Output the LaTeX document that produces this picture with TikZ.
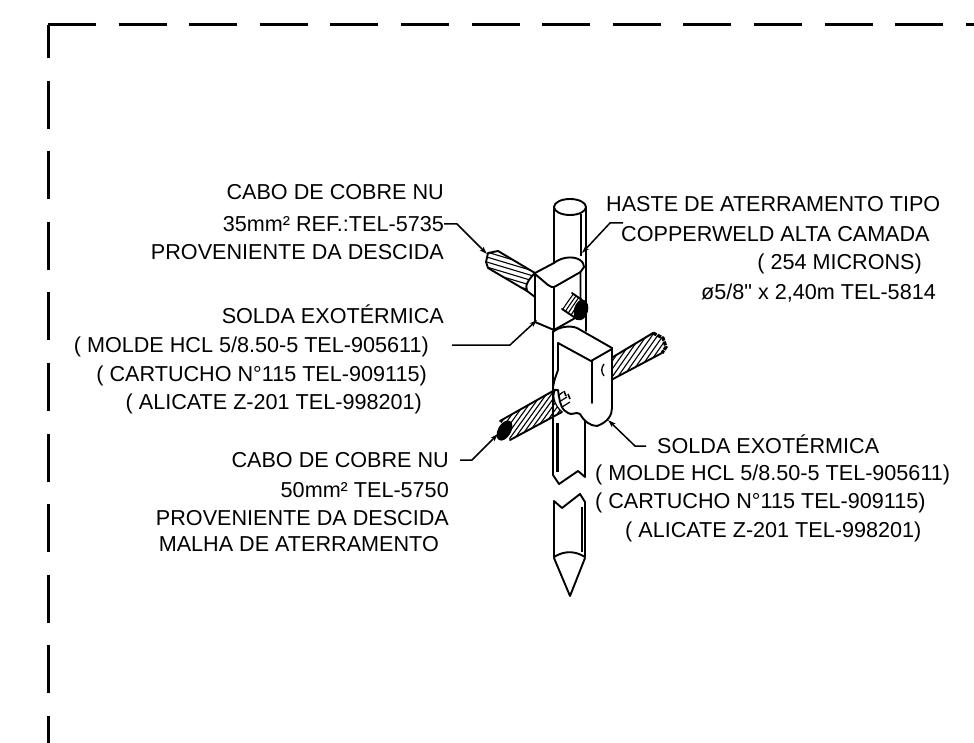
\documentclass[tikz,border=0pt]{standalone}
\usepackage{fontspec}
\setmainfont{Liberation Sans}[Ligatures=TeXOff]
\usetikzlibrary{arrows.meta}
\tikzset{
  lbl/.style={inner sep=0pt, text height=15pt, text depth=0pt, font=\fontsize{21.6}{22}\selectfont},
  part/.style={line width=1.9pt, line join=round, line cap=round},
  hatch/.style={line width=1.1pt},
  leader/.style={line width=1.5pt, -{Stealth[length=8pt,width=5pt]}},
  frame/.style={line width=3pt, dash pattern=on 48pt off 22.6pt}
}
\begin{document}
\begin{tikzpicture}[x=1pt, y=-1pt]
  \useasboundingbox (0,0) rectangle (974,743);
  % dashed border
  \coordinate (corner) at (48,25);
  \coordinate (frameR) at (974,25);
  \coordinate (frameB) at (48,743);
  \draw[frame] (corner) -- (frameR);
  \draw[frame, dash phase=15pt] (corner) -- (frameB);
  % rod, upper part
  \draw[part] (570,207) ellipse (16 and 8);
  \draw[part] (554,207) -- (554,262);
  \draw[part] (586,207) -- (586,331);
  \draw[line width=2.6pt] (581,214) -- (581,256);
  % rod, middle and lower part
  \draw[part] (553,331) -- (553,475) -- (559,484) -- (578,471) -- (585,477) -- (585,420);
  \draw[line width=2.6pt] (557.5,423) -- (557.5,472);
  \draw[part] (585,502) -- (580,494) -- (562,508) -- (554,501) -- (554,557)
     (585,502) -- (585,557) (554,557) to[bend left=32] (585,557);
  \draw[line width=2.6pt] (582,507) -- (582,552);
  \draw[part] (554,558) -- (570,596) -- (585,558);
  % upper cable
  \begin{scope}
    \clip (498,251) -- (488,253) -- (486,262) -- (488,268) -- (527,291) .. controls (524,285) and (530,278) .. (535,273) -- cycle;
    \foreach \k in {222,227,...,302} \draw[hatch] (470,\k) -- (550,\k+24);
  \end{scope}
  \draw[part] (535,273) -- (498,251) -- (488,253) -- (486,262) -- (488,268) -- (527,291) (535,297) -- (527,291);
  \draw[part] (535,273) .. controls (530,278) and (524,285) .. (527,291);
  % upper clamp
  \draw[part, fill=white] (535,273) -- (554,263) .. controls (560,258) and (572,255) .. (580,260) .. controls (583,262) and (584,265) .. (584,267) -- (580.5,272) -- (580.5,315) -- (554,330) -- (535,322) -- cycle;
  \draw[part] (535,274) -- (548,285) .. controls (550,287) and (553,288) .. (556,286) -- (580.5,272);
  \draw[part] (554,287) -- (554,330);
  % stub through the clamp
  \begin{scope}
    \clip (562,308) -- (572,293) -- (584,300) -- (578,321) -- cycle;
    \foreach \k in {545,549,...,590} \draw[hatch] (\k,325) .. controls (\k+6,315) and (\k+12,305) .. (\k+22,292);
  \end{scope}
  \draw[part] (572,293) -- (582,300) (562,309) -- (577,319);
  \draw[line width=1pt, fill=black, rotate around={-15:(581,310)}] (581,310) ellipse (6.5 and 10);
  % right cable
  \begin{scope}
    \clip (613,357) -- (653,333) -- (663,338) -- (666,347) -- (662,353) -- (613,378) -- cycle;
    \foreach \k in {590,595.5,...,680} \draw[hatch] (\k,385) -- (\k+42,325);
  \end{scope}
  \draw[part] (613,357) -- (653,333) (662,353) -- (613,379);
  \draw[line width=3.2pt, dash pattern=on 4pt off 1pt] (653,333) -- (663,338) -- (666,347) -- (662,353);
  % lower clamp
  \draw[part, fill=white] (553,332) .. controls (558,327) and (570,325) .. (577,328) -- (612,348) -- (612,408) .. controls (612,415) and (608,422) .. (597,426) .. controls (590,426) and (584,421) .. (580,414) .. controls (576,411) and (572,416) .. (568,413) .. controls (562,410) and (560,405) .. (558,390) -- (553,390) -- cycle;
  \draw[part] (553,332) -- (553,390);
  \draw[part] (558,343) -- (591,361) -- (612,349);
  \draw[part] (558,343) -- (558,370) .. controls (556,376) and (553,382) .. (553,390);
  \draw[part] (592,361) -- (592,403);
  \draw[line width=1.3pt] (604,364) .. controls (601,368) and (601,372) .. (604,376);
  % lower cable
  \begin{scope}
    \clip (500,421) -- (553,391) .. controls (552,398) and (555,406) .. (562,412) -- (510,440) -- cycle;
    \foreach \k in {485,490,...,575} \draw[hatch] (\k,445) -- (\k+38,392);
  \end{scope}
  \draw[part] (500,421) -- (553,391) (510,440) -- (562,412);
  \draw[line width=1.2pt] (556,389) .. controls (552,394) and (553,404) .. (562,412);
  \draw[line width=1.2pt] (558,396) -- (563,392) (559,402) -- (567,397) (562,407) -- (570,402);
  \draw[line width=1.6pt] (564,391) -- (566,396) (568,394) -- (570,399);
  \draw[line width=1pt, fill=black, rotate around={-30:(504.5,430.5)}] (504.5,430.5) ellipse (6 and 10.5);
  % texts, left side
  \node[lbl, anchor=east] (caboA) at (444,192) {CABO DE COBRE NU};
  \node[lbl, anchor=east] (refA) at (444,224) {35mm² REF.:TEL-5735};
  \node[lbl, anchor=east] (provA) at (444,252) {PROVENIENTE DA DESCIDA};
  \node[lbl, anchor=east] (soldaA) at (444,316) {SOLDA EXOTÉRMICA};
  \node[lbl, anchor=east] (moldeA) at (429,345) {( MOLDE HCL 5/8.50-5 TEL-905611)};
  \node[lbl, anchor=east] (cartA) at (427,374) {( CARTUCHO N°115 TEL-909115)};
  \node[lbl, anchor=east] (aliA) at (422,402) {( ALICATE Z-201 TEL-998201)};
  \node[lbl, anchor=east] (caboB) at (449,460) {CABO DE COBRE NU};
  \node[lbl, anchor=east] (refB) at (449,490) {50mm² TEL-5750};
  \node[lbl, anchor=east] (provB) at (449,518) {PROVENIENTE DA DESCIDA};
  \node[lbl, anchor=east] (malha) at (439,544) {MALHA DE ATERRAMENTO};
  % texts, right side
  \node[lbl, anchor=west] (haste) at (606,204) {HASTE DE ATERRAMENTO TIPO};
  \node[lbl, anchor=west] (copper) at (621,234) {COPPERWELD ALTA CAMADA};
  \node[lbl, anchor=east] (micron) at (922,262) {( 254 MICRONS)};
  \node[lbl, anchor=east] (bitola) at (936,292) {ø5/8" x 2,40m TEL-5814};
  \node[lbl, anchor=west] (soldaB) at (657,446) {SOLDA EXOTÉRMICA};
  \node[lbl, anchor=west] (moldeB) at (595,473) {( MOLDE HCL 5/8.50-5 TEL-905611)};
  \node[lbl, anchor=west] (cartB) at (595,501) {( CARTUCHO N°115 TEL-909115)};
  \node[lbl, anchor=west] (aliB) at (625,530) {( ALICATE Z-201 TEL-998201)};
  % leaders
  \coordinate (kneeA) at (457,224);
  \coordinate (tipA) at (487,254);
  \coordinate (startB) at (623,223);
  \coordinate (kneeB) at (610,223);
  \coordinate (tipB) at (582,253);
  \coordinate (kneeC) at (510,345);
  \coordinate (tipC) at (537,320);
  \coordinate (kneeD) at (472,460);
  \coordinate (tipD) at (498,434);
  \coordinate (kneeE) at (635,446);
  \coordinate (tipE) at (608,420);
  \draw[leader] (refA.east) -- (kneeA) -- (tipA);
  \draw[leader] (startB) -- (kneeB) -- (tipB);
  \draw[leader] ([xshift=23pt]moldeA.east) -- (kneeC) -- (tipC);
  \draw[leader] ([xshift=11pt]caboB.east) -- (kneeD) -- (tipD);
  \draw[leader] ([xshift=-11pt]soldaB.west) -- (kneeE) -- (tipE);
\end{tikzpicture}
\end{document}
